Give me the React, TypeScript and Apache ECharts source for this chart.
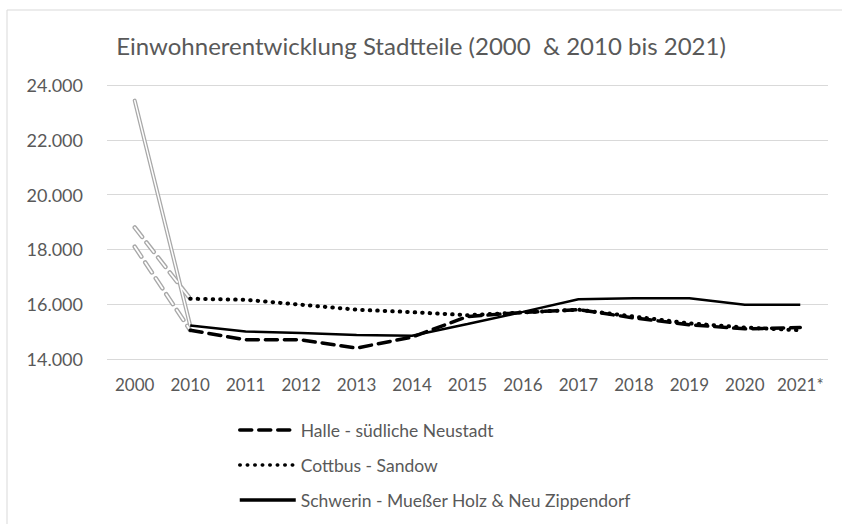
import React, { useEffect, useRef } from "react";
import * as echarts from "echarts";

const categories = ["2000", "2010", "2011", "2012", "2013", "2014", "2015", "2016", "2017", "2018", "2019", "2020", "2021*"];
const halle = [18100, 15050, 14700, 14700, 14400, 14800, 15550, 15700, 15800, 15500, 15250, 15100, 15150];
const cottbus = [18800, 16200, 16160, 15980, 15800, 15710, 15600, 15700, 15800, 15550, 15300, 15150, 15050];
const schwerin = [23430, 15220, 15000, 14950, 14880, 14850, 15280, 15720, 16180, 16220, 16220, 15980, 15980];
const seriesNames = ["Halle - südliche Neustadt", "Cottbus - Sandow", "Schwerin - Mueßer Holz & Neu Zippendorf"];
const titleText = "Einwohnerentwicklung Stadtteile (2000  & 2010 bis 2021)";

const FONT = "Lato, 'Open Sans', sans-serif";

function firstSegment(arr: number[]) {
  return arr.map((v, i) => (i <= 1 ? v : null));
}
function mainPart(arr: number[]) {
  return arr.map((v, i) => (i >= 1 ? v : null));
}

export default function App() {
  const ref = useRef<HTMLDivElement>(null);
  useEffect(() => {
    document.body.style.margin = "0";
    const chart = echarts.init(ref.current!, null, { renderer: "svg" });
    const dashType: number[] = [12, 7];
    const dotType: number[] = [0.5, 7];
    const hollow = (data: any[], type: any, outerW: number, innerW: number) => [
      {
        type: "line",
        data,
        symbol: "none",
        silent: true,
        z: 1,
        lineStyle: { color: "#a8a8a8", width: outerW, type, cap: "round" },
      },
      {
        type: "line",
        data,
        symbol: "none",
        silent: true,
        z: 2,
        lineStyle: { color: "#ffffff", width: innerW, type, cap: "round" },
      },
    ];
    chart.setOption({
      animation: false,
      backgroundColor: "#ffffff",
      title: {
        text: titleText,
        left: "center",
        top: 28,
        textStyle: { fontFamily: FONT, fontSize: 24, fontWeight: "normal", color: "#595959" },
      },
      graphic: [
        {
          type: "rect",
          shape: { x: 7, y: 10, width: 900, height: 600 },
          style: { fill: "none", stroke: "#d9d9d9", lineWidth: 1 },
          silent: true,
        },
      ],
      grid: { left: 107, right: 14, top: 85, bottom: 165 },
      legend: {
        orient: "vertical",
        left: 233,
        top: 416,
        itemWidth: 56,
        itemHeight: 14,
        itemGap: 17,
        data: seriesNames,
        itemStyle: { opacity: 0 },
        lineStyle: { width: 3.5 },
        textStyle: { fontFamily: FONT, fontSize: 17.5, color: "#595959" },
      },
      xAxis: {
        type: "category",
        data: categories,
        boundaryGap: true,
        axisLine: { show: false },
        axisTick: { show: false },
        axisLabel: { fontFamily: FONT, fontSize: 17, color: "#595959", margin: 17, interval: 0 },
      },
      yAxis: {
        type: "value",
        min: 14000,
        max: 24000,
        interval: 2000,
        axisLine: { show: false },
        axisTick: { show: false },
        splitLine: { lineStyle: { color: "#d9d9d9", width: 1 } },
        axisLabel: {
          fontFamily: FONT,
          fontSize: 18,
          color: "#595959",
          margin: 24,
          formatter: (v: number) => {
            const s = Math.round(v).toString();
            return s.replace(/\B(?=(\d{3})+(?!\d))/g, ".");
          },
        },
      },
      series: [
        ...hollow(firstSegment(schwerin), "solid", 4, 1.5),
        ...hollow(firstSegment(halle), dashType, 4.5, 1.8),
        ...hollow(firstSegment(cottbus), dashType, 4.5, 1.8),
        {
          name: seriesNames[0],
          type: "line",
          data: mainPart(halle),
          symbol: "none",
          z: 3,
          itemStyle: { color: "#000000" },
          lineStyle: { color: "#000000", width: 3.5, type: dashType, cap: "round" },
        },
        {
          name: seriesNames[1],
          type: "line",
          data: mainPart(cottbus),
          symbol: "none",
          z: 3,
          itemStyle: { color: "#000000" },
          lineStyle: { color: "#000000", width: 4, type: dotType, cap: "round" },
        },
        {
          name: seriesNames[2],
          type: "line",
          data: mainPart(schwerin),
          symbol: "none",
          z: 3,
          itemStyle: { color: "#000000" },
          lineStyle: { color: "#000000", width: 2.5, type: "solid" },
        },
      ],
    });
    return () => chart.dispose();
  }, []);
  return <div ref={ref} style={{ width: 842, height: 524 }} />;
}
